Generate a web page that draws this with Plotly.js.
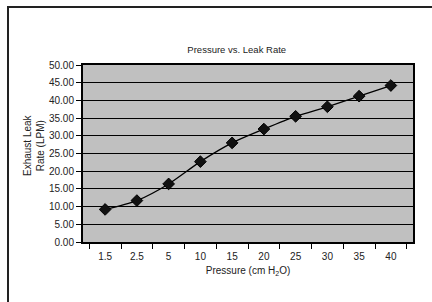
<!DOCTYPE html>
<html>
<head>
<meta charset="utf-8">
<script src="https://cdn.plot.ly/plotly-3.0.1.min.js"></script>
<style>
  html, body { margin: 0; padding: 0; background: #fff; width: 432px; height: 302px; overflow: hidden; }
  #frame { position: absolute; left: 7px; top: 6px; width: 440px; height: 310px; border-top: 2px solid #222; border-left: 2px solid #222; }
  #chart { position: absolute; left: 0; top: 0; width: 432px; height: 302px; }
</style>
</head>
<body>
<div id="frame"></div>
<div id="chart"></div>
<script>
const pressureLabels = ["1.5", "2.5", "5", "10", "15", "20", "25", "30", "35", "40"];
const leakRate = [9.2, 11.7, 16.4, 22.7, 28.0, 31.9, 35.5, 38.2, 41.2, 44.2];
const yTicks = [0, 5, 10, 15, 20, 25, 30, 35, 40, 45, 50];

const font = "Liberation Sans, Arial, sans-serif";
const trace = {
  x: pressureLabels,
  y: leakRate,
  type: "scatter",
  mode: "lines+markers",
  line: { color: "#000", width: 1.3, shape: "spline", smoothing: 0.8 },
  marker: { symbol: "diamond", size: 9, color: "#111", line: { color: "#000", width: 1 } },
  hoverinfo: "skip"
};

const layout = {
  width: 432, height: 302,
  margin: { l: 83, r: 19, t: 65, b: 60 },
  paper_bgcolor: "rgba(0,0,0,0)",
  plot_bgcolor: "#c0c0c0",
  showlegend: false,
  font: { family: font, size: 10, color: "#222" },
  title: { text: "Pressure vs. Leak Rate", font: { family: font, size: 9.5, color: "#222" }, x: 0.548, xanchor: "center", y: 0.836, yanchor: "middle" },
  xaxis: {
    type: "category",
    tickson: "boundaries",
    ticks: "outside", ticklen: 5, tickwidth: 1, tickcolor: "#000",
    ticklabelstandoff: 4,
    showline: true, linecolor: "#000", linewidth: 2, mirror: true,
    showgrid: false, zeroline: false,
    tickfont: { family: font, size: 10, color: "#222" },
    title: { text: "Pressure (cm H<sub>2</sub>O)", font: { family: font, size: 10, color: "#222" }, standoff: 6 },
    fixedrange: true
  },
  yaxis: {
    range: [0, 50],
    tickvals: yTicks,
    ticktext: yTicks.map(v => v.toFixed(2)),
    ticks: "outside", ticklen: 5, tickwidth: 1, tickcolor: "#000",
    showline: true, linecolor: "#000", linewidth: 2, mirror: true,
    showgrid: true, gridcolor: "#000", gridwidth: 1,
    zeroline: false,
    tickfont: { family: font, size: 10, color: "#222" },
    fixedrange: true
  },
  annotations: [{
    text: "Exhaust Leak<br>Rate (LPM)",
    xref: "paper", yref: "paper",
    x: -0.15, y: 0.545, xanchor: "center", yanchor: "middle",
    textangle: -90, showarrow: false,
    font: { family: font, size: 10, color: "#222" }
  }]
};

Plotly.newPlot("chart", [trace], layout, { displayModeBar: false, staticPlot: true });
</script>
</body>
</html>
